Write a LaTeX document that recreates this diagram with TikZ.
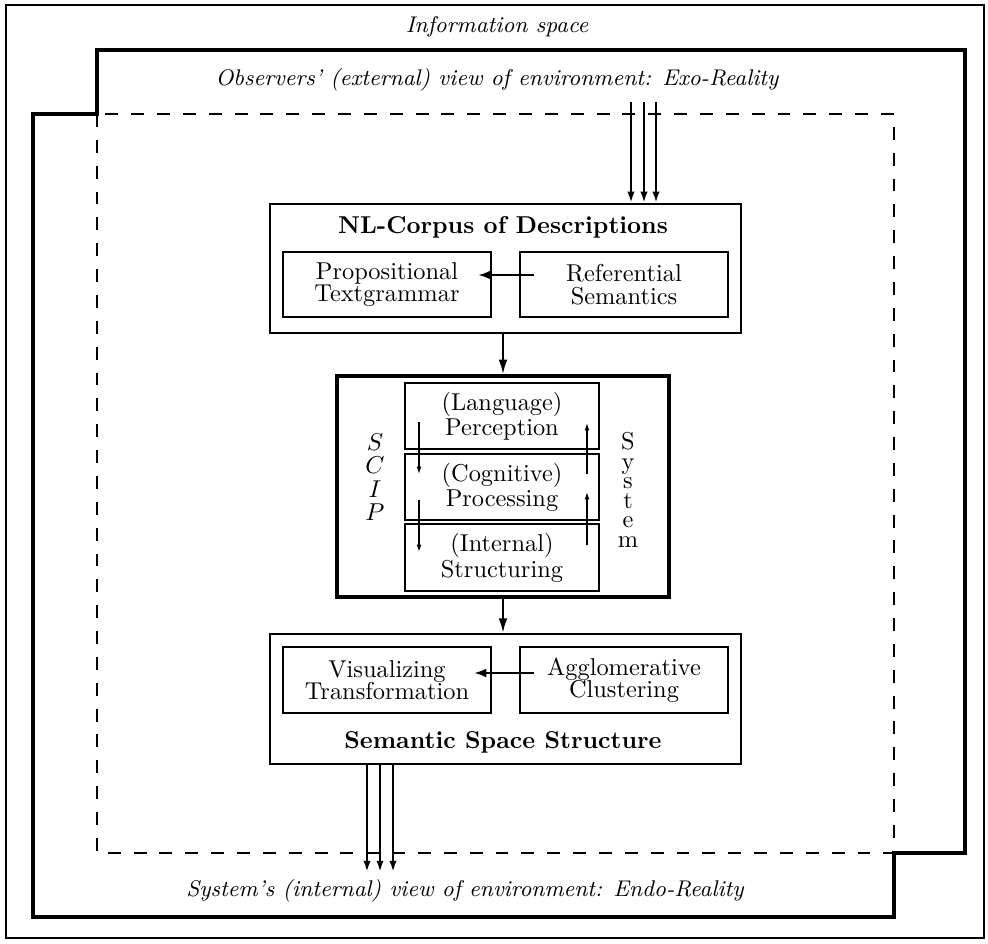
\documentclass[tikz,border=0pt]{standalone}
\usetikzlibrary{arrows.meta}
\def\px{0.41pt}
\tikzset{
  every picture/.style={x=0.41pt,y=-0.41pt},
  box/.style={draw,line width=0.9pt,rectangle,inner sep=0pt,align=center,font={\fontsize{10}{9.2}\selectfont}},
  subbox/.style={draw,line width=0.6pt,rectangle,inner sep=0pt,align=center,font={\fontsize{10}{9.2}\selectfont}},
  bigarr/.style={line width=0.9pt,-{Latex[length=6pt,width=3.6pt]}},
  tarr/.style={line width=0.9pt,-{Latex[length=4.6pt,width=3pt]}},
  harr/.style={line width=0.9pt,-{Latex[length=5pt,width=3.6pt]}},
  sarr/.style={line width=0.5pt,-{Latex[length=3pt,width=2pt]}},
  lbl/.style={inner sep=0pt,font={\fontsize{9.3}{11}\selectfont\itshape}},
}
\begin{document}
\begin{tikzpicture}
\useasboundingbox (0,0) rectangle (988,943);
% outer frame
\draw[line width=0.8pt] (6,5) rectangle (984,938);
% stepped thick polygon
\draw[line width=1.4pt,line join=miter] (97,50) -- (965,50) -- (965,853) -- (894,853) -- (894,917) -- (33,917) -- (33,114) -- (97,114) -- cycle;
% dashed rectangle
\draw[line width=0.55pt,dash pattern=on 5.3pt off 5.3pt] (97,114) rectangle (894,853);
% labels
\node[lbl] (info) at (497,27) {Information space};
\node[lbl] (exo) at (497,80) {Observers' (external) view of environment: Exo-Reality};
\node[lbl] (endo) at (465,891) {System's (internal) view of environment: Endo-Reality};
% NL corpus box
\node[box,minimum width={471*\px},minimum height={129*\px}] (nl) at (505.5,268.5) {};
\node[inner sep=0pt,font=\bfseries] (nltitle) at (503,227) {NL-Corpus of Descriptions};
\node[box,minimum width={208*\px},minimum height={65*\px}] (prop) at (387,284.5) {Propositional\\Textgrammar};
\node[box,minimum width={208*\px},minimum height={65*\px}] (ref) at (624,284.5) {Referential\\Semantics};
\draw[harr] ([xshift={15*\px},yshift={9.5*\px}]ref.west) -- ([xshift={-14*\px},yshift={9.5*\px}]prop.east);
% top arrows
\foreach \i/\x in {1/631,2/644,3/656}{
  \coordinate (t\i) at (\x,102);
  \draw[tarr] (t\i) -- (t\i |- nl.north);
}
% SCIP box
\node[draw,line width=1.4pt,minimum width={332*\px},minimum height={221*\px},inner sep=0pt] (scip) at (503,486.5) {};
\node[subbox,minimum width={194*\px},minimum height={66*\px}] (p1) at (502,416) {(Language)\\Perception};
\node[subbox,minimum width={194*\px},minimum height={66*\px}] (p2) at (502,487) {(Cognitive)\\Processing};
\node[subbox,minimum width={194*\px},minimum height={67*\px}] (p3) at (502,557.5) {(Internal)\\Structuring};
\node[inner sep=0pt,align=center,font={\fontsize{10}{9.6}\selectfont}] (scipl) at (375,477) {$S$\\$C$\\$I$\\$P$};
\node[inner sep=0pt,align=center,font={\fontsize{10}{8}\selectfont}] (sysl) at (628,490) {S\\y\\s\\t\\e\\m};
\coordinate (a1s) at (419,422); \coordinate (a1e) at (419,474);
\coordinate (a2s) at (419,500); \coordinate (a2e) at (419,552);
\coordinate (b1s) at (587,474); \coordinate (b1e) at (587,423);
\coordinate (b2s) at (587,545); \coordinate (b2e) at (587,492);
\draw[sarr] (a1s) -- (a1e);
\draw[sarr] (a2s) -- (a2e);
\draw[sarr] (b1s) -- (b1e);
\draw[sarr] (b2s) -- (b2e);
\draw[bigarr] (nl.south -| scip.north) -- (scip.north);
% Semantic box
\node[box,minimum width={471*\px},minimum height={130*\px}] (sem) at (505.5,699) {};
\draw[bigarr] (scip.south) -- (scip.south |- sem.north);
\node[inner sep=0pt,font=\bfseries] (semtitle) at (503,742) {Semantic Space Structure};
\node[box,minimum width={208*\px},minimum height={66*\px}] (vis) at (387,680) {Visualizing\\Transformation};
\node[box,minimum width={208*\px},minimum height={66*\px}] (agg) at (624,680) {Agglomerative\\Clustering};
\draw[harr] ([xshift={15*\px},yshift={7*\px}]agg.west) -- ([xshift={-18*\px},yshift={7*\px}]vis.east);
% bottom arrows
\foreach \i/\x in {1/367,2/380,3/393}{
  \coordinate (b\i) at (\x,872);
  \draw[tarr] (b\i |- sem.south) -- (b\i);
}
\end{tikzpicture}
\end{document}
